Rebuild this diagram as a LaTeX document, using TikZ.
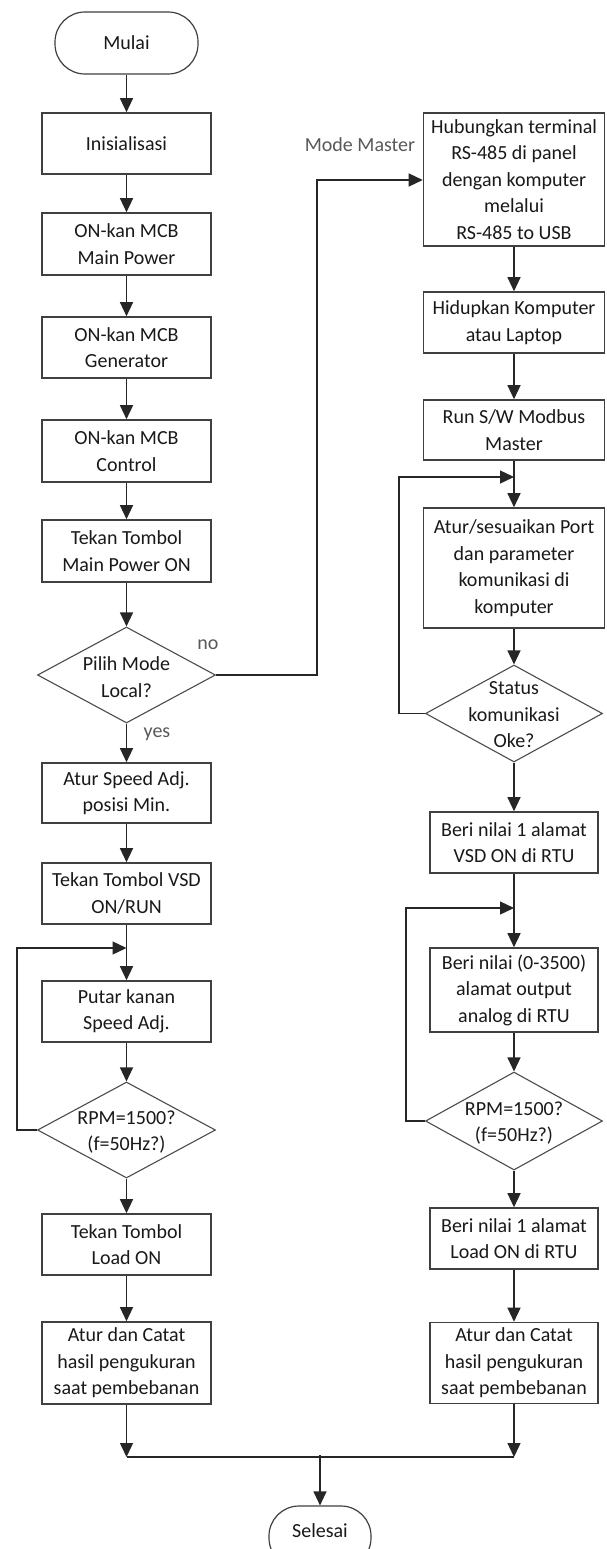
\documentclass[tikz,border=0pt]{standalone}
\usepackage{fontspec}
\setmainfont{Carlito}
\usetikzlibrary{shapes.geometric,arrows.meta}
\begin{document}
\begin{tikzpicture}[x=1pt,y=-1pt,
  every node/.style={font=\fontsize{20}{26.5}\selectfont, text=black!90},
  box/.style={draw=black!75, line width=1.6pt, rectangle, inner sep=0pt, align=center},
  term/.style={draw=black!75, line width=1.2pt, rectangle, rounded corners=30pt, inner sep=0pt, align=center},
  dec/.style={draw=black!70, line width=1.1pt, diamond, inner sep=0pt},
  txt/.style={inner sep=0pt, align=center},
  lbl/.style={inner sep=0pt, text=black!65},
  arr/.style={draw=black!85, line width=1.3pt, -{Triangle[width=13pt,length=14pt]}},
  ln/.style={draw=black!85, line width=1.3pt}]
\clip (0,0) rectangle (606,1549);
\fill[white] (0,0) rectangle (606,1549);

% left column
\node[term, minimum width=143pt, minimum height=62pt] (mulai) at (126.5,43) {Mulai};
\node[box, minimum width=169pt, minimum height=61pt] (init) at (126.5,143.5) {Inisialisasi};
\node[box, minimum width=169pt, minimum height=62pt] (mcb1) at (126.5,244) {ON-kan MCB\\Main Power};
\node[box, minimum width=169pt, minimum height=61pt] (mcb2) at (126.5,347.5) {ON-kan MCB\\Generator};
\node[box, minimum width=169pt, minimum height=62pt] (mcb3) at (126.5,451) {ON-kan MCB\\Control};
\node[box, minimum width=169pt, minimum height=62pt] (tek1) at (126.5,551) {Tekan Tombol\\Main Power ON};
\node[dec, minimum width=178pt, minimum height=96pt] (dec1) at (126.5,675) {};
\node[txt] (dec1t) at (126.5,677) {Pilih Mode\\Local?};
\node[lbl] (no) at (208,645) {no};
\node[lbl] (yes) at (157,734) {yes};
\node[box, minimum width=169pt, minimum height=60pt] (atur1) at (126.5,793) {Atur Speed Adj.\\posisi Min.};
\node[box, minimum width=169pt, minimum height=61pt] (vsd) at (126.5,893.5) {Tekan Tombol VSD\\ON/RUN};
\node[box, minimum width=169pt, minimum height=61pt] (putar) at (126.5,1011.5) {Putar kanan\\Speed Adj.};
\node[dec, minimum width=178pt, minimum height=96pt] (dec2) at (126.5,1130) {};
\node[txt] (dec2t) at (126.5,1132) {RPM=1500?\\(f=50Hz?)};
\node[box, minimum width=169pt, minimum height=61pt] (load) at (126.5,1244.5) {Tekan Tombol\\Load ON};
\node[box, minimum width=169pt, minimum height=82pt] (catat1) at (126.5,1363) {Atur dan Catat\\hasil pengukuran\\saat pembebanan};

% right column
\node[lbl] (mm) at (360,145) {Mode Master};
\node[box, minimum width=181pt, minimum height=133pt] (hub) at (514,179.5) {Hubungkan terminal\\RS-485 di panel\\dengan komputer\\melalui\\RS-485 to USB};
\node[box, minimum width=181pt, minimum height=61pt] (hidup) at (514,322.5) {Hidupkan Komputer\\atau Laptop};
\node[box, minimum width=181pt, minimum height=60pt] (run) at (514,430) {Run S/W Modbus\\Master};
\node[box, minimum width=181pt, minimum height=120pt] (atur2) at (514,568) {Atur/sesuaikan Port\\dan parameter\\komunikasi di\\komputer};
\node[dec, minimum width=177pt, minimum height=97pt] (dec3) at (514,713.5) {};
\node[txt] (dec3t) at (514,715) {Status\\komunikasi\\Oke?};
\node[box, minimum width=168pt, minimum height=61pt] (beri1) at (514,842.5) {Beri nilai 1 alamat\\VSD ON di RTU};
\node[box, minimum width=168pt, minimum height=84pt] (beri2) at (514,990) {Beri nilai (0-3500)\\alamat output\\analog di RTU};
\node[dec, minimum width=177pt, minimum height=98pt] (dec4) at (514,1121) {};
\node[txt] (dec4t) at (514,1123) {RPM=1500?\\(f=50Hz?)};
\node[box, minimum width=168pt, minimum height=61pt] (beri3) at (514,1238.5) {Beri nilai 1 alamat\\Load ON di RTU};
\node[box, minimum width=168pt, minimum height=81pt] (catat2) at (514,1363) {Atur dan Catat\\hasil pengukuran\\saat pembebanan};

\node[term, minimum width=102pt, minimum height=62pt] (selesai) at (320,1537) {};
\node[txt] (selesait) at (320,1531) {Selesai};

% coordinates
\coordinate (l1) at (126.5,948);
\coordinate (l1c) at (17,948);
\coordinate (l1d) at (17,1130);
\coordinate (nob) at (317,675);
\coordinate (not) at (317,180);
\coordinate (r1) at (514,477);
\coordinate (r1c) at (399,477);
\coordinate (r1d) at (399,713.5);
\coordinate (r2) at (514,908);
\coordinate (r2c) at (406,908);
\coordinate (r2d) at (406,1121);
\coordinate (jl) at (126.5,1457);
\coordinate (jr) at (514,1457);
\coordinate (jm) at (320,1455);

% left connectors
\draw[arr] (mulai) -- (init);
\draw[arr] (init) -- (mcb1);
\draw[arr] (mcb1) -- (mcb2);
\draw[arr] (mcb2) -- (mcb3);
\draw[arr] (mcb3) -- (tek1);
\draw[arr] (tek1) -- (dec1.north);
\draw[arr] (dec1.south) -- (atur1);
\draw[arr] (atur1) -- (vsd);
\draw[arr] (vsd) -- (putar);
\draw[arr] (putar) -- (dec2.north);
\draw[arr] (dec2.west) -- (l1d) -- (l1c) -- (l1);
\draw[arr] (dec2.south) -- (load);
\draw[arr] (load) -- (catat1);
\draw[arr] (catat1) -- (jl);

% no branch
\draw[arr] (dec1.east) -- (nob) -- (not) -- (hub.west |- not);

% right connectors
\draw[arr] (hub) -- (hidup);
\draw[arr] (hidup) -- (run);
\draw[arr] (run) -- (atur2);
\draw[arr] (atur2) -- (dec3.north);
\draw[arr] (dec3.west) -- (r1d) -- (r1c) -- (r1);
\draw[arr] (dec3.south) -- (beri1);
\draw[arr] (beri1) -- (beri2);
\draw[arr] (beri2) -- (dec4.north);
\draw[arr] (dec4.west) -- (r2d) -- (r2c) -- (r2);
\draw[arr] (dec4.south) -- (beri3);
\draw[arr] (beri3) -- (catat2);
\draw[arr] (catat2) -- (jr);

% join
\draw[ln] (jl) -- (jr);
\draw[arr] (jm) -- (selesai.north);
\end{tikzpicture}
\end{document}
